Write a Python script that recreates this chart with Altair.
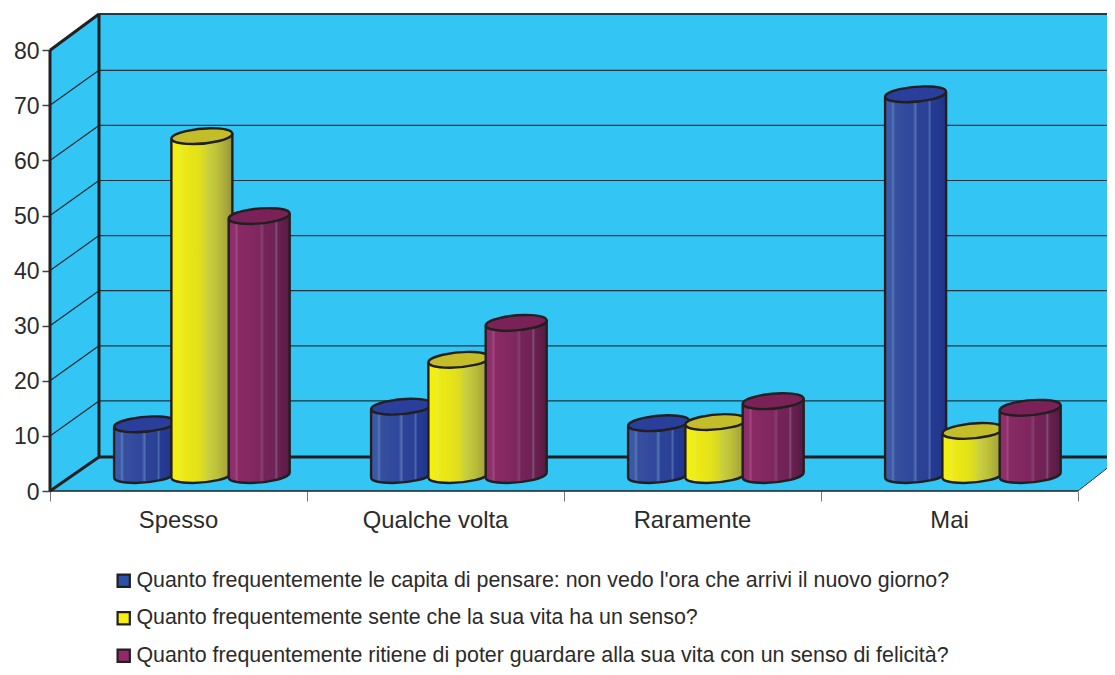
import altair as alt
import pandas as pd

categories = ["Spesso", "Qualche volta", "Raramente", "Mai"]
series_names = [
    "Quanto frequentemente le capita di pensare: non vedo l'ora che arrivi il nuovo giorno?",
    "Quanto frequentemente sente che la sua vita ha un senso?",
    "Quanto frequentemente ritiene di poter guardare alla sua vita con un senso di felicità?",
]
blue_values = [9.2, 12.4, 9.4, 69.1]
yellow_values = [61.5, 20.9, 9.6, 8.0]
maroon_values = [47.0, 27.6, 13.4, 12.2]
all_values = [blue_values, yellow_values, maroon_values]
y_ticks = [0, 10, 20, 30, 40, 50, 60, 70, 80]
x_ticks = [0, 1, 2, 3, 4]

legend_colors = ["#2a52a8", "#f7ef0f", "#96286a"]
top_colors = ["#2a3f9c", "#c4bd2a", "#7a2258"]
side_stops = [
    [(0, "#3d5aa6"), (0.1, "#3a58a8"), (0.13, "#5a78b8"), (0.16, "#36509f"), (0.45, "#30479c"),
     (0.5, "#5070b0"), (0.53, "#2c4498"), (0.7, "#2a4096"), (0.73, "#4a68ac"), (0.76, "#263c94"), (1, "#1f3488")],
    [(0, "#f8f00c"), (0.12, "#f2ee10"), (0.15, "#e8ec40"), (0.18, "#eeea14"), (0.45, "#e2e01a"),
     (0.55, "#d4d82a"), (0.6, "#c8d040"), (0.75, "#bcc038"), (0.9, "#a8a83c"), (1, "#8e9440")],
    [(0, "#8a2a66"), (0.1, "#90306c"), (0.13, "#a04880"), (0.16, "#8a2a64"), (0.5, "#7e2660"),
     (0.55, "#84406e"), (0.58, "#762258"), (0.75, "#702256"), (0.78, "#805078"), (0.81, "#6a2050"), (1, "#561a44")],
]

# Depth layout in scale units
UNIT_PX = 257.0
wall_dx = 49 / UNIT_PX
wall_dy = 34 / 5.51
grid_dy = 35 / 5.51
bar_dy = 16 / 5.51
x_max = 1057 / UNIT_PX
y_max = 477 / 5.51
half_w = 30.5 / UNIT_PX
spacing = 57.3 / UNIT_PX
tilt = 2.6 / 5.51
ink = "#231f20"

x_enc = alt.X("x:Q", scale=alt.Scale(domain=[0, x_max], nice=False, zero=False),
              axis=alt.Axis(values=x_ticks, labels=False, title=None, grid=False, domain=False,
                            tickSize=10, tickColor="#777777", tickWidth=1))
y_enc = alt.Y("y:Q", scale=alt.Scale(domain=[0, y_max], nice=False),
              axis=alt.Axis(values=y_ticks, title=None, grid=False, domain=False, tickSize=8,
                            tickColor="#444444", tickWidth=1.5, labelFontSize=23, labelPadding=3,
                            labelOffset=1, labelColor="#2b2b2b", labelFont="Liberation Sans"))
Y2 = alt.Y2("y2:Q")
X = alt.X("x:Q")
Y = alt.Y("y:Q")

layers = []

# hidden legend source, drawn underneath the walls
legend_df = pd.DataFrame({"x": [1, 1, 1], "y": [20, 20, 20], "s": series_names})
layers.append(alt.Chart(legend_df).mark_point(filled=True, size=4, shape="square", opacity=1).encode(
    x=x_enc, y=y_enc,
    color=alt.Color("s:N", scale=alt.Scale(domain=series_names, range=legend_colors),
                    legend=alt.Legend(title=None, orient="none", legendX=63, legendY=556, symbolType="square",
                                      symbolSize=150, symbolStrokeColor=ink, symbolStrokeWidth=2.2,
                                      symbolOpacity=1,
                                      labelFontSize=21.4, labelLimit=1000, labelColor="#2b2b2b",
                                      labelFont="Liberation Sans", rowPadding=14.5, labelOffset=2,
                                      columns=1))))

wall = "#33c5f4"
# back wall
layers.append(alt.Chart(pd.DataFrame({"x": [wall_dx], "x2": [x_max], "y": [wall_dy], "y2": [y_max]}))
              .mark_rect(color=wall).encode(x=X, x2="x2:Q", y=Y, y2=Y2))
# left wall
layers.append(alt.Chart(pd.DataFrame({"x": [0, wall_dx], "y": [0, wall_dy], "y2": [80, y_max]}))
              .mark_area(color=wall).encode(x=X, y=Y, y2=Y2))
# floor
floor_right = 29 * (x_max - 4) * UNIT_PX / 37 / 5.51
layers.append(alt.Chart(pd.DataFrame({"x": [0, wall_dx, 4, x_max], "y": [0, 0, 0, floor_right],
                                      "y2": [0, wall_dy, wall_dy, wall_dy]}))
              .mark_area(color=wall).encode(x=X, y=Y, y2=Y2))
# gridlines on back wall and side wall
grid_values = y_ticks[1:-1]
layers.append(alt.Chart(pd.DataFrame({"x": [wall_dx] * len(grid_values), "x2": [x_max] * len(grid_values),
                                      "y": [v + grid_dy for v in grid_values]}))
              .mark_rule(color="#1d3440", strokeWidth=1.2).encode(x=X, x2="x2:Q", y=Y))
side_rows = []
for v in grid_values:
    side_rows += [{"x": 0, "y": v, "g": v}, {"x": wall_dx, "y": v + grid_dy, "g": v}]
layers.append(alt.Chart(pd.DataFrame(side_rows)).mark_line(color="#1d2a30", strokeWidth=1.2)
              .encode(x=X, y=Y, detail="g:N"))

# frame edges
def edges(rows, width, color=ink):
    data = []
    for i, (x0, y0, x1, y1) in enumerate(rows):
        data += [{"x": x0, "y": y0, "g": i}, {"x": x1, "y": y1, "g": i}]
    return alt.Chart(pd.DataFrame(data)).mark_line(color=color, strokeWidth=width).encode(x=X, y=Y, detail="g:N")

layers.append(edges([(0, 0, 4, 0)], 1.5))
layers.append(edges([(4, 0, x_max, floor_right)], 1, "#333333"))
layers.append(edges([(wall_dx, y_max, x_max, y_max)], 2.2, "#1f3a48"))
layers.append(edges([(0, 0, 0, 80), (wall_dx, wall_dy, wall_dx, y_max), (0, 80, wall_dx, y_max),
                     (0, 0, wall_dx, wall_dy), (wall_dx, wall_dy, x_max, wall_dy)], 3))

ellipse = "M-0.498,0.0436A0.5,0.12,-5,1,1,0.498,-0.0436A0.5,0.12,-5,1,1,-0.498,0.0436Z"
size = (2 * 61) ** 2

def grad(stops):
    return alt.Gradient(gradient="linear", x1=0, x2=1, y1=0, y2=0,
                        stops=[alt.GradientStop(offset=o, color=c) for o, c in stops])

for s, values in enumerate(all_values):
    centers = [0.591 + i + (s - 1) * spacing for i in range(len(categories))]
    g = grad(side_stops[s])
    base_df = pd.DataFrame({"x": centers, "y": [bar_dy] * len(centers)})
    top_df = pd.DataFrame({"x": centers, "y": [v + bar_dy for v in values]})
    layers.append(alt.Chart(base_df).mark_point(shape=ellipse, size=size, filled=True, fill=g, stroke=ink,
                                                strokeWidth=2.4, opacity=1).encode(x=X, y=Y))
    rows = []
    for i, (c, v) in enumerate(zip(centers, values)):
        rows.append({"x": c - half_w, "y": v + bar_dy - tilt, "y2": bar_dy - tilt, "g": i})
        rows.append({"x": c + half_w, "y": v + bar_dy + tilt, "y2": bar_dy + tilt, "g": i})
    body = pd.DataFrame(rows)
    layers.append(alt.Chart(body).mark_area(fill=g).encode(x=X, y=Y, y2=Y2, detail="g:N"))
    layers.append(alt.Chart(body).mark_rule(color=ink, strokeWidth=2.4).encode(x=X, y=Y, y2=Y2))
    layers.append(alt.Chart(top_df).mark_point(shape=ellipse, size=size, filled=True, fill=top_colors[s],
                                               stroke=ink, strokeWidth=2.4, opacity=1).encode(x=X, y=Y))

# category labels
layers.append(alt.Chart(pd.DataFrame({"x": [i + 0.5 for i in range(4)], "y": [0] * 4, "t": categories}))
              .mark_text(fontSize=23.8, font="Liberation Sans", color="#2b2b2b", dy=30, baseline="middle")
              .encode(x=X, y=Y, text="t:N"))

chart = alt.layer(*layers).properties(
    width=1057, height=477,
    padding={"left": 42, "top": 6, "right": 0, "bottom": 176},
    autosize=alt.AutoSizeParams(type="none"),
    background="white",
).configure_view(stroke=None)

chart.save("out.html", embed_options={"renderer": "svg", "actions": False})
